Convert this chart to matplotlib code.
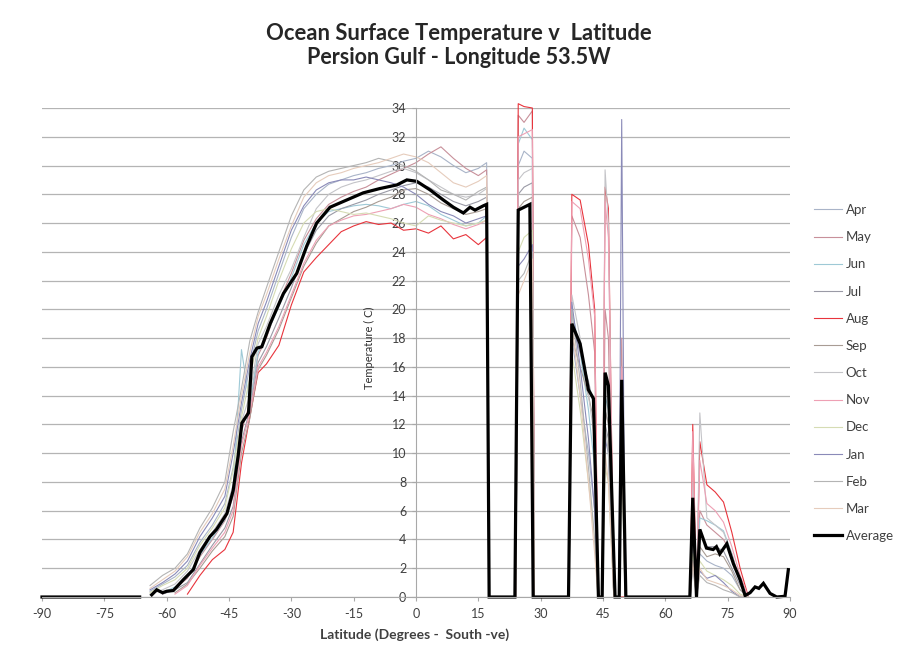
import numpy as np
import matplotlib.pyplot as plt

plt.rcParams['font.family'] = ['Lato', 'DejaVu Sans']
plt.rcParams['axes.unicode_minus'] = False

months = ['Apr', 'May', 'Jun', 'Jul', 'Aug', 'Sep', 'Oct', 'Nov', 'Dec', 'Jan', 'Feb', 'Mar']
colors = ['#a9b4c8', '#c8909a', '#9ec9d6', '#9a9aa6', '#e8343c', '#a89c94',
          '#c4c4c8', '#eea0b4', '#d6dcb4', '#8a8ab8', '#b4b4b4', '#e6ccbc']

# latitudes shared by the monthly series (main band, then the islands / gaps)
lat_m = [-64, -61, -58, -55, -52, -49, -46, -44, -42, -40, -38, -36, -33, -30, -27,
         -24, -21, -18, -15, -12, -9, -6, -3, 0, 3, 6, 9, 12, 15, 17,
         17.6, 24, 24.6, 26, 28, 28.5, 36.8, 37.5, 39.5, 41.5, 43, 43.8, 44.8, 45.5, 46.3,
         47.6, 48.8, 49.5, 50.3, 66, 66.6, 67.5, 68.3, 70, 72, 74, 76, 78, 80]

apr = [0.4, 0.9, 1.4, 2.2, 3.8, 5.0, 6.5, 9.0, 13.0, 16.0, 18.5, 20.0, 22.5, 25.0, 27.0,
       28.0, 28.7, 29.0, 29.3, 29.5, 29.8, 30.0, 30.3, 30.5, 31.0, 30.6, 30.0, 29.5, 29.8, 30.2,
       0, 0, 30, 31, 30.5, 0, 0, 18, 14, 10, 6, 0, 0, 13, 12, 0, 0, 15, 0, 0, 4, 0, 3, 2.5, 2.2, 2.0, 1.5, 0.5, 0]
may = [None, 0.2, 0.6, 1.3, 2.8, 4.0, 5.3, 7.0, 11.5, 13.5, 16.8, 18.0, 20.5, 22.5, 24.8,
       26.3, 27.3, 27.8, 28.2, 28.5, 29.0, 29.4, 29.8, 30.2, 30.8, 31.3, 30.5, 29.8, 29.3, 29.7,
       0, 0, 33.5, 33, 33.8, 0, 0, 26.5, 25, 21, 17, 0, 0, 20, 18, 0, 0, 18, 0, 0, 8, 0, 6, 5, 4.5, 4, 3, 1, 0]
jun = [None, 0.3, 0.7, 1.4, 2.9, 4.1, 5.4, 7.5, 17.2, 13.4, 17.0, 18.2, 20.2, 22.2, 24.5,
       26.0, 26.8, 27.0, 27.2, 27.3, 27.2, 27.0, 27.3, 27.5, 27.2, 26.6, 26.2, 25.8, 26.0, 26.5,
       0, 0, 31.5, 32.6, 31.8, 0, 0, 20, 17, 13, 9, 0, 0, 14, 13, 0, 0, 13, 0, 0, 7, 0, 5.5, 5.3, 5.0, 4.6, 3.0, 1.0, 0]
jul = [None, 0.2, 0.5, 1.0, 2.3, 3.6, 4.8, 6.3, 10.8, 13.0, 16.3, 17.4, 19.4, 21.5, 23.8,
       25.5, 26.5, 27.0, 27.3, 27.6, 28.0, 28.3, 28.6, 28.8, 28.5, 28.0, 27.5, 27.2, 27.5, 27.8,
       0, 0, 28, 28.5, 28.8, 0, 0, 19, 17, 15, 13, 0, 0, 12, 11, 0, 0, 12, 0, 0, 6, 0, 4.5, 3.5, 3.5, 3.2, 2, 0.8, 0]
aug = [None, None, None, 0.2, 1.5, 2.6, 3.3, 4.5, 9.3, 12.5, 15.6, 16.2, 17.5, 20.3, 22.6,
       23.6, 24.5, 25.4, 25.8, 26.1, 25.9, 26.0, 25.5, 25.6, 25.3, 25.8, 24.9, 25.2, 24.5, 25.0,
       0, 0, 34.3, 34.1, 34.0, 0, 0, 28, 27.6, 24.5, 20, 0, 0, 28.5, 27, 0, 0, 0, 0, 0, 12, 0, 10.8, 7.8, 7.3, 6.6, 4.5, 2.0, 0]
sep = [None, None, 0.3, 0.9, 2.0, 3.2, 4.2, 5.6, 10.0, 12.4, 15.8, 16.8, 18.6, 20.8, 23.0,
       24.6, 25.8, 26.3, 26.8, 27.1, 27.5, 27.8, 28.3, 28.4, 28.0, 27.4, 27.0, 26.6, 26.8, 27.0,
       0, 0, 27, 27.5, 27.8, 0, 0, 18, 16, 14, 12, 0, 0, 13, 12, 0, 0, 14, 0, 0, 5, 0, 3.5, 2.8, 3.0, 2.8, 1.8, 0.5, 0]
oct_ = [0.2, 0.5, 0.9, 1.8, 3.3, 4.5, 5.8, 7.8, 12.2, 14.0, 17.6, 18.8, 21.0, 22.8, 25.0,
        27.0, 28.0, 28.5, 28.8, 29.0, 29.3, 29.6, 29.8, 29.5, 29.0, 28.5, 28.0, 27.8, 28.0, 28.4,
        0, 0, 29, 29.5, 29.8, 0, 0, 21, 18, 14, 11, 0, 0, 29.7, 26, 0, 0, 14, 0, 0, 8, 0, 12.8, 5.5, 5.0, 4.5, 3, 1, 0]
nov = [None, None, 0.2, 0.8, 2.2, 3.4, 4.5, 6.0, 10.5, 12.8, 16.0, 17.0, 18.8, 21.0, 23.2,
       24.8, 25.8, 26.2, 26.5, 26.6, 26.8, 27.0, 27.3, 27.1, 26.6, 26.3, 25.9, 25.6, 25.9, 26.2,
       0, 0, 32, 32.2, 32.5, 0, 0, 27.5, 27, 23.5, 19.5, 0, 0, 27.5, 25, 0, 0, 16, 0, 0, 11.5, 0, 9.5, 6.5, 6.0, 5.2, 3.5, 1.5, 0]
dec = [0.3, 0.8, 1.2, 2.0, 3.6, 4.8, 6.2, 8.8, 12.5, 15.2, 18.0, 19.5, 22.0, 24.2, 26.0,
       26.8, 27.0, 26.8, 26.6, 26.7, 26.5, 26.3, 26.0, 25.8, 26.5, 26.2, 26.0, 25.8, 26.0, 26.2,
       0, 0, 24, 25, 25.5, 0, 0, 17, 13, 8, 4, 0, 0, 9, 8, 0, 0, 10, 0, 0, 3, 0, 2.5, 1.8, 1.5, 1.2, 0.8, 0.2, 0]
jan = [0.5, 1.0, 1.6, 2.5, 4.2, 5.5, 7.0, 10.0, 13.5, 16.5, 19.0, 20.5, 23.0, 25.5, 27.2,
       28.3, 28.8, 29.0, 29.0, 29.2, 29.0, 28.8, 28.5, 28.0, 27.3, 26.8, 26.5, 26.0, 26.3, 26.5,
       0, 0, 23, 23.5, 24.5, 0, 0, 20.5, 16, 11, 6, 0, 0, 11, 10, 0, 0, 33.2, 0, 0, 2.5, 0, 1.8, 1.3, 1.5, 1.0, 0.4, 0, 0]
feb = [0.8, 1.5, 2.0, 3.0, 4.8, 6.2, 8.0, 11.5, 14.5, 17.8, 19.8, 21.5, 24.0, 26.5, 28.3,
       29.2, 29.6, 29.8, 30.0, 30.2, 30.5, 30.3, 30.0, 29.6, 29.0, 28.3, 28.0, 27.6, 28.2, 28.5,
       0, 0, 22, 22.5, 24, 0, 0, 20, 15, 9, 4, 0, 0, 12, 10, 0, 0, 14, 0, 0, 2, 0, 1.5, 1.0, 0.8, 0.5, 0.3, 0, 0]
mar = [0.6, 1.2, 1.8, 2.8, 4.5, 5.8, 7.5, 10.5, 14.0, 17.0, 19.5, 21.0, 23.5, 25.8, 27.8,
       28.8, 29.3, 29.5, 29.8, 30.0, 30.2, 30.5, 30.8, 30.6, 30.2, 29.5, 28.8, 28.5, 28.9, 29.3,
       0, 0, 21, 22, 23.5, 0, 0, 19, 14, 8, 3, 0, 0, 10, 8, 0, 0, 12, 0, 0, 2.5, 0, 2, 1.2, 1.0, 0.8, 0.5, 0.1, 0]

avg_lat = [-90, -66.5, -65, -63.6, -62.4, -61, -60, -58.4, -56, -53.6, -52, -49.6, -48, -45.5,
           -44, -42.8, -41.9, -40.3, -39.5, -38.3, -37.1, -35.1, -31.9, -28.7, -26.3, -23.9,
           -20.7, -16.7, -12.7, -8.7, -4.6, -2.2, 0.2, 3.4, 6.6, 9, 11.4, 13, 14.2, 16.2, 17,
           17.6, 23.8, 24.6, 27.4, 28.2, 36.7, 37.5, 39.5, 41.5, 42.7, 43.9, 44.8, 45.5, 46.3,
           47.9, 48.9, 49.5, 50.5, 65.9, 66.6, 67.5, 68.3, 69.9, 71.5, 72.3, 73.1, 74.8, 76.4,
           78, 79.2, 80.4, 81.6, 82.5, 83.6, 85.2, 86.8, 88.8, 89.6]
avg_temp = [0, 0, None, 0.15, 0.5, 0.3, 0.4, 0.45, 1.2, 1.9, 3.1, 4.2, 4.7, 5.8,
            7.4, 9.8, 12.1, 12.8, 16.7, 17.3, 17.4, 19.0, 21.1, 22.5, 24.4, 26.0,
            27.1, 27.6, 28.1, 28.4, 28.65, 29.0, 28.9, 28.3, 27.6, 27.1, 26.7, 27.1, 26.9, 27.2, 27.3,
            0, 0, 26.9, 27.3, 0, 0, 19.0, 17.6, 14.4, 13.8, 0, 0, 15.6, 14.7,
            0, 0, 15.1, 0, 0, 6.9, 0, 4.7, 3.4, 3.3, 3.5, 3.0, 3.7, 2.3,
            1.2, 0.1, 0.3, 0.7, 0.6, 0.95, 0.25, 0, 0.05, 1.9]

series = [apr, may, jun, jul, aug, sep, oct_, nov, dec, jan, feb, mar]

fig = plt.figure(figsize=(9.05, 6.64), dpi=100)
ax = fig.add_axes([42 / 905, 67 / 664, 748 / 905, 489 / 664])

handles = []
for name, vals, c in zip(months, series, colors):
    ln, = ax.plot(lat_m, np.array(vals, dtype=float), color=c, lw=0.8, label=name, clip_on=False)
    handles.append(ln)
ln, = ax.plot(avg_lat, np.array(avg_temp, dtype=float), color='black', lw=2.3, label='Average',
              clip_on=False, solid_joinstyle='miter')
handles.append(ln)

ax.set_xlim(-90, 90)
ax.set_ylim(0, 34)
ax.set_xticks(range(-90, 91, 15))
ax.set_yticks(range(0, 35, 2))
ax.yaxis.grid(True, color='#b4b4b4', lw=0.9)
ax.set_axisbelow(True)

for s in ['top', 'right']:
    ax.spines[s].set_visible(False)
ax.spines['left'].set_position(('data', 0))
ax.spines['left'].set_color('#a8a8a8')
ax.spines['bottom'].set_color('#a8a8a8')
ax.tick_params(axis='both', length=3, color='#a8a8a8', labelsize=9, labelcolor='#404040')
ax.tick_params(axis='x', pad=5)
ax.tick_params(axis='y', pad=4)

ax.set_xlabel('Latitude (Degrees -  South -ve)', fontsize=10, fontweight='bold', color='#404040')
ax.xaxis.set_label_coords(0.4987, -0.064)
ax.set_ylabel('Temperature ( C)', fontsize=8, color='#303030')
ax.yaxis.set_label_coords(0.445, 0.51)

fig.text(459 / 905, 1 - 33 / 664, 'Ocean Surface Temperature v  Latitude', ha='center', va='center',
         fontsize=15.8, fontweight='bold', color='#262626')
fig.text(459 / 905, 1 - 57 / 664, 'Persion Gulf - Longitude 53.5W', ha='center', va='center',
         fontsize=15.5, fontweight='bold', color='#262626')

fig.legend(handles, months + ['Average'], loc='upper left', bbox_to_anchor=(814 / 905, 1 - 204 / 664),
           frameon=False, fontsize=9.5, handlelength=2.1, handletextpad=0.3, labelspacing=1.15,
           borderpad=0, borderaxespad=0, labelcolor='#404040')

fig.savefig('out.png', dpi=100)
